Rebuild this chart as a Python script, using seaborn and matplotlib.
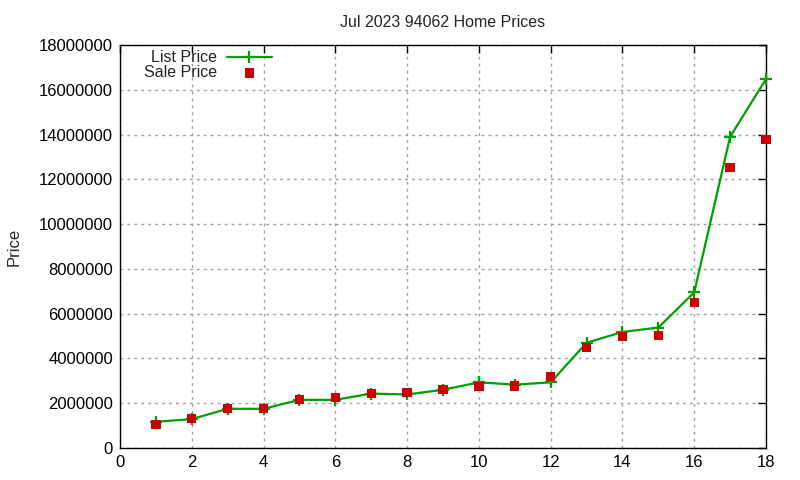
import numpy as np
import pandas as pd
import matplotlib
matplotlib.use("Agg")
import matplotlib.pyplot as plt
import matplotlib.ticker as mticker
import seaborn as sns

# values
rank = [1, 2, 3, 4, 5, 6, 7, 8, 9, 10, 11, 12, 13, 14, 15, 16, 17, 18]
list_price = [1170000, 1290000, 1750000, 1750000, 2150000, 2150000, 2430000, 2390000,
              2600000, 2930000, 2830000, 2930000, 4700000, 5180000, 5380000, 6950000,
              13900000, 16480000]
sale_price = [1050000, 1310000, 1770000, 1760000, 2170000, 2250000, 2440000, 2470000,
              2610000, 2750000, 2770000, 3180000, 4500000, 4980000, 5020000, 6490000,
              12520000, 13770000]

df = pd.DataFrame({"rank": rank, "list": list_price, "sale": sale_price})

sns.set_style("white")
plt.rcParams["font.family"] = ["Liberation Sans", "DejaVu Sans"]
plt.rcParams["font.size"] = 12

fig = plt.figure(figsize=(8, 4.8), dpi=100)
ax = fig.add_axes([0.15, 0.0667, 0.8075, 0.8396])

sns.lineplot(data=df, x="rank", y="list", ax=ax, color="#00a000", linewidth=1.6,
             marker="+", markersize=8, markeredgewidth=1.6, markeredgecolor="#00a000",
             label="List Price", zorder=3, clip_on=False)
sns.scatterplot(data=df, x="rank", y="sale", ax=ax, color="#cc0000", marker="s",
                s=45, edgecolor="none", label="Sale Price", zorder=4, clip_on=False)

ax.set_xlim(0, 18)
ax.set_ylim(0, 18000000)
ax.xaxis.set_major_locator(mticker.MultipleLocator(2))
ax.yaxis.set_major_locator(mticker.MultipleLocator(2000000))
ax.yaxis.set_major_formatter(mticker.FuncFormatter(lambda v, p: f"{int(v)}"))
ax.tick_params(direction="in", top=True, right=True, length=6, width=1,
               labelsize=12, colors="black", pad=5)
for s in ax.spines.values():
    s.set_color("black")
    s.set_linewidth(1)
ax.grid(True, linestyle=(0, (2, 3)), color="#a0a0a0", linewidth=1)
ax.set_axisbelow(True)

ax.set_xlabel("")
ax.set_ylabel("Price", fontsize=12)
ax.yaxis.set_label_coords(-0.153, 0.5)
ax.set_title("Jul 2023 94062 Home Prices", fontsize=11.5, pad=13)

ax.legend(loc="upper left", markerfirst=False, frameon=False, fontsize=11.5,
          bbox_to_anchor=(0.02, 1.015), handlelength=2.8, borderpad=0.2,
          labelspacing=0.0, handletextpad=0.6)

fig.savefig("out.png", dpi=100)
